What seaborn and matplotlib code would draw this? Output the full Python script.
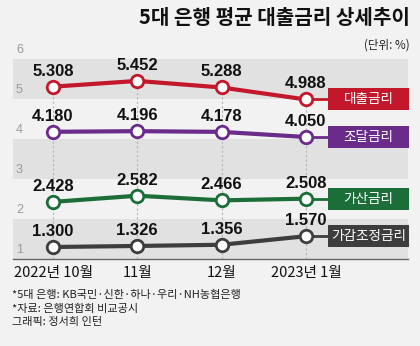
import matplotlib
matplotlib.use("Agg")
import matplotlib.pyplot as plt
import seaborn as sns
import pandas as pd
from matplotlib.patches import Rectangle

months = ["2022년 10월", "11월", "12월", "2023년 1월"]
series_names = ["대출금리", "조달금리", "가산금리", "가감조정금리"]
loan = [5.308, 5.452, 5.288, 4.988]
funding = [4.180, 4.196, 4.178, 4.050]
spread = [2.428, 2.582, 2.466, 2.508]
adjust = [1.300, 1.326, 1.356, 1.570]
yticks = [1, 2, 3, 4, 5, 6]
colors = ["#c3182c", "#6b2b8b", "#1c6e39", "#3d3d3d"]
title = "5대 은행 평균 대출금리 상세추이"
unit = "(단위: %)"
notes = ["*5대 은행: KB국민·신한·하나·우리·NH농협은행",
         "*자료: 은행연합회 비교공시",
         "그래픽: 정서희 인턴"]

values = [loan, funding, spread, adjust]
rows = []
for name, vals in zip(series_names, values):
    for i, v in enumerate(vals):
        rows.append({"idx": i, "value": v, "series": name})
df = pd.DataFrame(rows)

sns.set_theme(style="white")
KR = ["Noto Sans CJK KR", "DejaVu Sans"]
NUM = ["Liberation Sans Narrow", "Liberation Sans", "DejaVu Sans"]
plt.rcParams["font.family"] = KR

bg = "#f2f2f2"
fig = plt.figure(figsize=(4.2, 3.46), dpi=100, facecolor=bg)
W, H = 420, 346
ax = fig.add_axes([13 / W, 1 - 259 / H, (408 - 13) / W, 200 / H])
ax.set_facecolor(bg)

step = 84.3
ax.set_xlim(-(53 - 13) / step, (408 - 53) / step)
ax.set_ylim(1, 6)

for lo in (1, 3, 5):
    ax.axhspan(lo, lo + 1, color="#e1e1e1", zorder=0, lw=0)

for i in range(len(months)):
    top = max(v[i] for v in values)
    ax.vlines(i, 1, top, colors="#b5b5b5", linestyles=(0, (2, 2)), lw=0.8, zorder=1)

sns.lineplot(data=df, x="idx", y="value", hue="series", hue_order=series_names,
             palette=colors, lw=3, marker="o", markersize=9, legend=False, ax=ax,
             zorder=3)
for line, c in zip(ax.lines, colors):
    line.set_markerfacecolor("white")
    line.set_markeredgecolor(c)
    line.set_markeredgewidth(2)

for vals in values:
    for i, v in enumerate(vals):
        ax.annotate(f"{v:.3f}", (i, v), xytext=(0, 8), textcoords="offset pixels",
                    ha="center", va="bottom", fontsize=12, family=NUM,
                    fontweight="bold", color="#111111", zorder=5)

# right-side label boxes
bx0, bx1 = (328 - 53) / step, (409 - 53) / step
bh = 0.55
for name, vals, c in zip(series_names, values, colors):
    yc = vals[-1]
    ax.plot([3, bx0], [vals[-1], yc], color=c, lw=2, zorder=2, clip_on=False)
    ax.add_patch(Rectangle((bx0, yc - bh / 2), bx1 - bx0, bh, color=c, zorder=4,
                           clip_on=False, lw=0))
    ax.text((bx0 + bx1) / 2, yc, name, ha="center", va="center", color="white",
            fontsize=9.8, zorder=6)

# y tick labels inside
for t in yticks:
    ax.text(ax.get_xlim()[0] + 3 / step, t + 0.08, str(t), ha="left",
            va="bottom", fontsize=9, color="#999999", family=NUM)

ax.set_xticks(range(len(months)))
ax.set_xticklabels(months, fontsize=10.5, color="#111111")
ax.tick_params(axis="x", length=0, pad=5)
ax.set_yticks([])
ax.set_xlabel("")
ax.set_ylabel("")
for s in ("top", "left", "right"):
    ax.spines[s].set_visible(False)
ax.spines["bottom"].set_color("#666666")
ax.spines["bottom"].set_linewidth(1)

fig.text(410 / W, 1 - 18 / H, title, ha="right", va="center", fontsize=14.5,
         fontweight="bold", color="#111111")
fig.text(410 / W, 1 - 45 / H, unit, ha="right", va="center", fontsize=8.3,
         color="#222222")
for k, n in enumerate(notes):
    fig.text(12 / W, 1 - (295 + 13.5 * k) / H, n, ha="left", va="center",
             fontsize=8, color="#222222")

fig.savefig("out.png", dpi=100, facecolor=bg)
